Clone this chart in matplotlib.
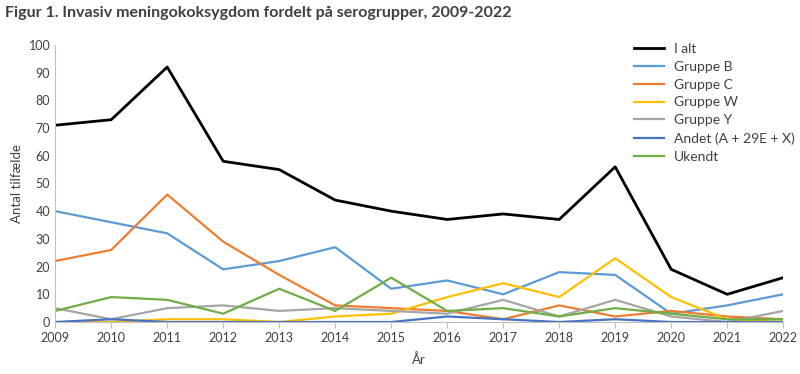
import matplotlib
matplotlib.use("Agg")
import matplotlib.pyplot as plt

years = list(range(2009, 2023))
i_alt = [71, 73, 92, 58, 55, 44, 40, 37, 39, 37, 56, 19, 10, 16]
gruppe_b = [40, 36, 32, 19, 22, 27, 12, 15, 10, 18, 17, 3, 6, 10]
gruppe_c = [22, 26, 46, 29, 17, 6, 5, 4, 1, 6, 2, 4, 2, 1]
gruppe_w = [0, 0, 1, 1, 0, 2, 3, 9, 14, 9, 23, 9, 1, 0]
gruppe_y = [5, 1, 5, 6, 4, 5, 4, 3, 8, 2, 8, 2, 0, 4]
andet = [0, 1, 0, 0, 0, 0, 0, 2, 1, 0, 1, 0, 0, 0]
ukendt = [4, 9, 8, 3, 12, 4, 16, 4, 5, 2, 5, 3, 1, 1]

series = [
    ("I alt", i_alt, "#000000"),
    ("Gruppe B", gruppe_b, "#5B9BD5"),
    ("Gruppe C", gruppe_c, "#ED7D31"),
    ("Gruppe W", gruppe_w, "#FFC000"),
    ("Gruppe Y", gruppe_y, "#A5A5A5"),
    ("Andet (A + 29E + X)", andet, "#4472C4"),
    ("Ukendt", ukendt, "#70AD47"),
]

plt.rcParams["font.family"] = ["Lato", "DejaVu Sans"]

fig = plt.figure(figsize=(8, 3.74), dpi=100)
ax = fig.add_axes([0.069, 0.139, 0.91, 0.741])

for name, vals, color in series:
    lw = 2.0 if name == "I alt" else 1.6
    ax.plot(years, vals, color=color, lw=lw, label=name)

ax.set_xlim(2009, 2022)
ax.set_ylim(0, 100)
ax.set_xticks(years)
ax.set_yticks(range(0, 101, 10))
ax.tick_params(labelsize=9, colors="#404040", length=4)
ax.tick_params(axis="y", length=0)
for side in ("top", "right"):
    ax.spines[side].set_visible(False)
ax.spines["left"].set_color("#BFBFBF")
ax.spines["bottom"].set_color("#BFBFBF")
ax.tick_params(axis="x", color="#BFBFBF")

ax.set_xlabel("År", fontsize=9.5, color="#404040", labelpad=6)
ax.set_ylabel("Antal tilfælde", fontsize=9.5, color="#404040")

fig.legend(loc="upper left", bbox_to_anchor=(0.785, 0.9), frameon=False,
           fontsize=10, labelcolor="#404040", handlelength=2.2,
           handletextpad=0.7, labelspacing=0.42, borderaxespad=0)

fig.text(0.006, 0.965, "Figur 1. Invasiv meningokoksygdom fordelt på serogrupper, 2009-2022",
         fontsize=11.5, fontweight="bold", color="#404040", va="center")

fig.savefig("out.png", dpi=100)
